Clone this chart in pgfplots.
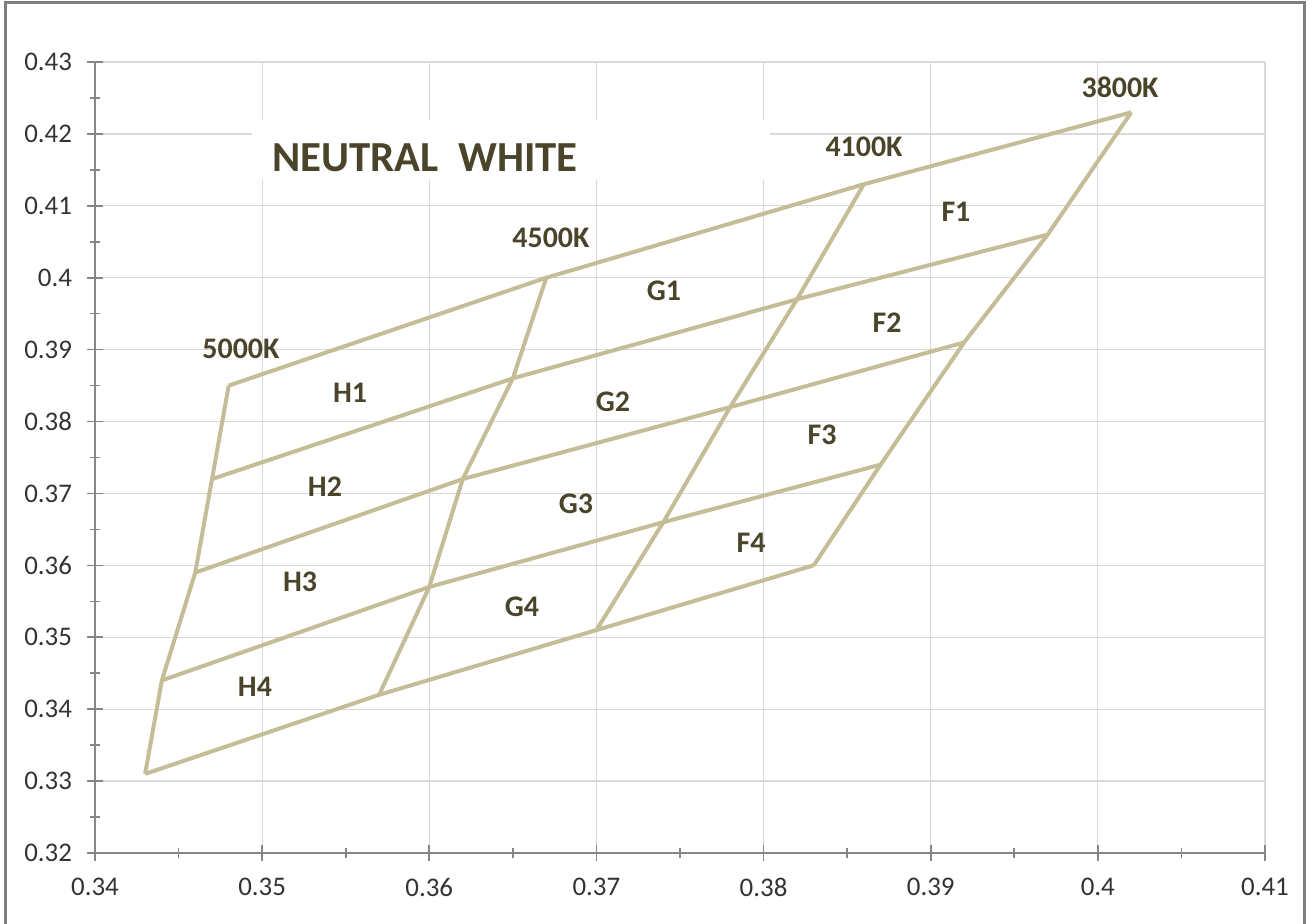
\documentclass[border=0pt]{standalone}
\usepackage{pgfplots}
\pgfplotsset{compat=1.18}
\usepackage{fontspec}
\setmainfont{Carlito}
\definecolor{bin}{HTML}{C4BD97}
\definecolor{lab}{HTML}{4A452A}
\definecolor{gridc}{HTML}{D9D9D9}
\definecolor{axc}{HTML}{868686}
\definecolor{tickc}{HTML}{333333}
\definecolor{framec}{HTML}{7F7F7F}
\begin{document}
\begin{tikzpicture}
\path[use as bounding box] (-47.5bp,-35.5bp) rectangle (608.5bp,426.5bp);
\draw[framec, line width=1.5bp] (-44.5bp,-45bp) -- (-44.5bp,425bp) -- (604.5bp,425bp) -- (604.5bp,-45bp);
\begin{axis}[
  scale only axis, width=585bp, height=395.5bp,
  xmin=0.34, xmax=0.41, ymin=0.32, ymax=0.43,
  xtick={0.34,0.35,0.36,0.37,0.38,0.39,0.40,0.41},
  ytick={0.32,0.33,0.34,0.35,0.36,0.37,0.38,0.39,0.40,0.41,0.42,0.43},
  minor x tick num=1, minor y tick num=1,
  grid=major, major grid style={gridc, line width=0.6bp},
  axis lines=left, axis line style={axc, -, line width=0.8bp},
  tick style={axc, line width=0.8bp},
  tick align=center, major tick length=8bp, minor tick length=5bp,
  /pgf/number format/assume math mode=true,
  ticklabel style={font=\fontsize{13.5}{16}\selectfont, text=tickc},
  yticklabel style={xshift=-4bp},
  xticklabel style={yshift=-5bp},
  clip=false,
]
\fill[white] (axis cs:0.34939,0.41359) rectangle (axis cs:0.38039,0.42193);
% rows
\addplot[bin, line width=2bp, line join=round, no marks] coordinates {(0.348,0.385) (0.367,0.400) (0.386,0.413) (0.402,0.423)};
\addplot[bin, line width=2bp, line join=round, no marks] coordinates {(0.347,0.372) (0.365,0.386) (0.382,0.397) (0.397,0.406)};
\addplot[bin, line width=2bp, line join=round, no marks] coordinates {(0.346,0.359) (0.362,0.372) (0.378,0.382) (0.392,0.391)};
\addplot[bin, line width=2bp, line join=round, no marks] coordinates {(0.344,0.344) (0.360,0.357) (0.374,0.366) (0.387,0.374)};
\addplot[bin, line width=2bp, line join=round, no marks] coordinates {(0.343,0.331) (0.357,0.342) (0.370,0.351) (0.383,0.360)};
% columns
\addplot[bin, line width=2bp, line join=round, no marks] coordinates {(0.348,0.385) (0.347,0.372) (0.346,0.359) (0.344,0.344) (0.343,0.331)};
\addplot[bin, line width=2bp, line join=round, no marks] coordinates {(0.367,0.400) (0.365,0.386) (0.362,0.372) (0.360,0.357) (0.357,0.342)};
\addplot[bin, line width=2bp, line join=round, no marks] coordinates {(0.386,0.413) (0.382,0.397) (0.378,0.382) (0.374,0.366) (0.370,0.351)};
\addplot[bin, line width=2bp, line join=round, no marks] coordinates {(0.402,0.423) (0.397,0.406) (0.392,0.391) (0.387,0.374) (0.383,0.360)};
% labels
\tikzset{lbl/.style={text=lab, font=\bfseries\fontsize{15}{18}\selectfont, inner sep=0pt}}
\node[lbl] at (axis cs:0.34873,0.39008) {5000K};
\node[lbl] at (axis cs:0.36728,0.40552) {4500K};
\node[lbl] at (axis cs:0.38601,0.41818) {4100K};
\node[lbl] at (axis cs:0.40133,0.42652) {3800K};
\node[lbl] at (axis cs:0.35526,0.38396) {H1};
\node[lbl] at (axis cs:0.35376,0.37089) {H2};
\node[lbl] at (axis cs:0.35227,0.35768) {H3};
\node[lbl] at (axis cs:0.34957,0.34307) {H4};
\node[lbl] at (axis cs:0.37404,0.39815) {G1};
\node[lbl] at (axis cs:0.37099,0.38271) {G2};
\node[lbl] at (axis cs:0.36878,0.36853) {G3};
\node[lbl] at (axis cs:0.36555,0.35420) {G4};
\node[lbl] at (axis cs:0.39151,0.40914) {F1};
\node[lbl] at (axis cs:0.38739,0.39370) {F2};
\node[lbl] at (axis cs:0.38350,0.37812) {F3};
\node[lbl] at (axis cs:0.37925,0.36310) {F4};
\node[text=lab, font=\bfseries\fontsize{21.5}{25}\selectfont, inner sep=0pt] at (axis cs:0.35974,0.41665) {NEUTRAL\ \ WHITE};
\end{axis}
\end{tikzpicture}
\end{document}
